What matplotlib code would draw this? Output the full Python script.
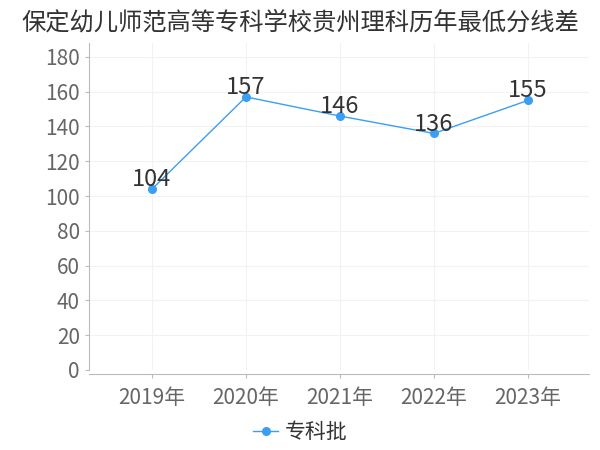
import matplotlib
matplotlib.use('Agg')
from matplotlib import pyplot as plt

plt.rcParams['font.family'] = ['Noto Sans CJK SC', 'DejaVu Sans']

years = ['2019年', '2020年', '2021年', '2022年', '2023年']
scores = [104, 157, 146, 136, 155]
series_name = '专科批'
title = '保定幼儿师范高等专科学校贵州理科历年最低分线差'

line_color = '#3a9ff2'

fig = plt.figure(figsize=(6, 4.5), dpi=100)
ax = fig.add_axes([89 / 600, 1 - 370 / 450, 500 / 600, 327 / 450])

x = list(range(len(years)))
ax.plot(x, scores, color=line_color, linewidth=1, marker='o', markersize=5.5,
        label=series_name, zorder=3)
for xi, v in zip(x, scores):
    ax.annotate(str(v), (xi, v), xytext=(0, -1.5), textcoords='offset points',
                ha='center', va='bottom', fontsize=17, color='#333333')

ax.set_ylim(0, 188)
ax.set_yticks(range(0, 181, 20))
ax.set_xlim(-0.67, 4.65)
ax.set_xticks(x)
ax.set_xticklabels(years)

ax.grid(True, color='#f2f2f2', linewidth=0.8)
ax.set_axisbelow(True)
for s in ['top', 'right']:
    ax.spines[s].set_visible(False)
for s in ['left', 'bottom']:
    ax.spines[s].set_color('#bbbbbb')
ax.spines['bottom'].set_position(('outward', 3))
ax.tick_params(axis='both', colors='#bbbbbb', labelcolor='#666666', labelsize=15, length=3)
ax.tick_params(axis='x', pad=6)

fig.suptitle(title, x=0.5, y=0.978, fontsize=17.5, color='#333333')

fig.legend(loc='center', bbox_to_anchor=(0.5, 1 - 432 / 450), frameon=False,
           fontsize=15, handlelength=1.2, handletextpad=0.3, labelcolor='#333333')

fig.savefig('out.png', dpi=100)
